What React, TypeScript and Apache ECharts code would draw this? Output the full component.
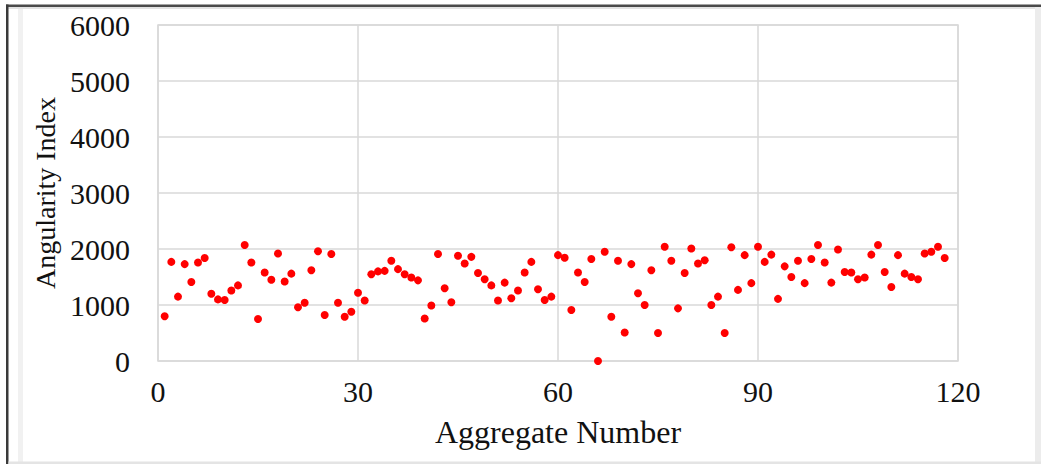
import React, { useEffect, useRef } from "react";
import * as echarts from "echarts";

const xTicks = [0, 30, 60, 90, 120];
const yTicks = [0, 1000, 2000, 3000, 4000, 5000, 6000];
const xAxisTitle = "Aggregate Number";
const yAxisTitle = "Angularity Index";

const angularityIndex = [
  800, 1770, 1150, 1730, 1410, 1760, 1840, 1200, 1100, 1090,
  1260, 1350, 2070, 1760, 750, 1580, 1450, 1920, 1420, 1560,
  960, 1040, 1620, 1960, 820, 1910, 1040, 790, 880, 1220,
  1080, 1550, 1600, 1610, 1790, 1640, 1550, 1490, 1440, 760,
  990, 1910, 1300, 1050, 1880, 1740, 1860, 1570, 1460, 1350,
  1080, 1400, 1120, 1260, 1580, 1770, 1280, 1090, 1150, 1890,
  1845, 910, 1580, 1410, 1820, 0, 1950, 790, 1790, 510,
  1730, 1210, 1000, 1620, 500, 2040, 1790, 940, 1570, 2010,
  1740, 1800, 1000, 1150, 500, 2030, 1270, 1890, 1390, 2040,
  1770, 1900, 1110, 1690, 1500, 1790, 1390, 1820, 2070, 1760,
  1400, 1990, 1590, 1580, 1460, 1490, 1900, 2070, 1590, 1320,
  1890, 1560, 1500, 1460, 1920, 1950, 2040, 1840,
];

export default function App() {
  const ref = useRef<HTMLDivElement>(null);
  useEffect(() => {
    if (!ref.current) return;
    const chart = echarts.init(ref.current, null, { renderer: "svg" });
    const data = angularityIndex.map((v, i) => [i + 1, v]);
    const font = "'Liberation Serif', 'Times New Roman', serif";
    const xStep = xTicks[1] - xTicks[0];
    const yStep = yTicks[1] - yTicks[0];
    chart.setOption({
      animation: false,
      backgroundColor: "#ffffff",
      grid: {
        left: 158,
        right: 83,
        top: 25,
        bottom: 103,
        show: true,
        borderColor: "#d9d9d9",
        borderWidth: 1.5,
        backgroundColor: "transparent",
      },
      xAxis: {
        type: "value",
        min: xTicks[0],
        max: xTicks[xTicks.length - 1],
        interval: xStep,
        axisLine: { show: false },
        axisTick: { show: false },
        splitLine: { show: true, lineStyle: { color: "#d9d9d9", width: 1.5 } },
        axisLabel: {
          color: "#111111",
          fontFamily: font,
          fontSize: 30,
          margin: 15,
          formatter: (v: number) => String(v),
        },
        name: xAxisTitle,
        nameLocation: "middle",
        nameGap: 55,
        nameTextStyle: { color: "#111111", fontFamily: font, fontSize: 32 },
      },
      yAxis: {
        type: "value",
        min: yTicks[0],
        max: yTicks[yTicks.length - 1],
        interval: yStep,
        axisLine: { show: false },
        axisTick: { show: false },
        splitLine: { show: true, lineStyle: { color: "#d9d9d9", width: 1.5 } },
        axisLabel: {
          color: "#111111",
          fontFamily: font,
          fontSize: 30,
          margin: 28,
          formatter: (v: number) => String(v),
        },
        name: yAxisTitle,
        nameLocation: "middle",
        nameGap: 98,
        nameTextStyle: { color: "#111111", fontFamily: font, fontSize: 28 },
      },
      series: [
        {
          type: "scatter",
          data,
          symbol: "circle",
          symbolSize: 8,
          itemStyle: { color: "#ff0000", opacity: 1 },
          clip: false,
        },
      ],
      graphic: [
        { type: "rect", shape: { x: 6, y: 4.5, width: 1035, height: 2.5 }, style: { fill: "#4a4a4a" }, silent: true },
        { type: "rect", shape: { x: 6, y: 7, width: 1035, height: 2 }, style: { fill: "#e2e2e2" }, silent: true },
        { type: "rect", shape: { x: 6, y: 4.5, width: 2.5, height: 460 }, style: { fill: "#3a3a3a" }, silent: true },
        { type: "rect", shape: { x: 18, y: 9, width: 5, height: 453 }, style: { fill: "#f1f1f1" }, silent: true },
        { type: "rect", shape: { x: 1035, y: 7, width: 6, height: 457 }, style: { fill: "#ececec" }, silent: true },
        { type: "rect", shape: { x: 8.5, y: 461.5, width: 1033, height: 2.5 }, style: { fill: "#e4e4e4" }, silent: true },
      ],
    });
    return () => chart.dispose();
  }, []);
  return (
    <div
      ref={ref}
      style={{ position: "fixed", left: 0, top: 0, width: 1041, height: 464 }}
    />
  );
}
